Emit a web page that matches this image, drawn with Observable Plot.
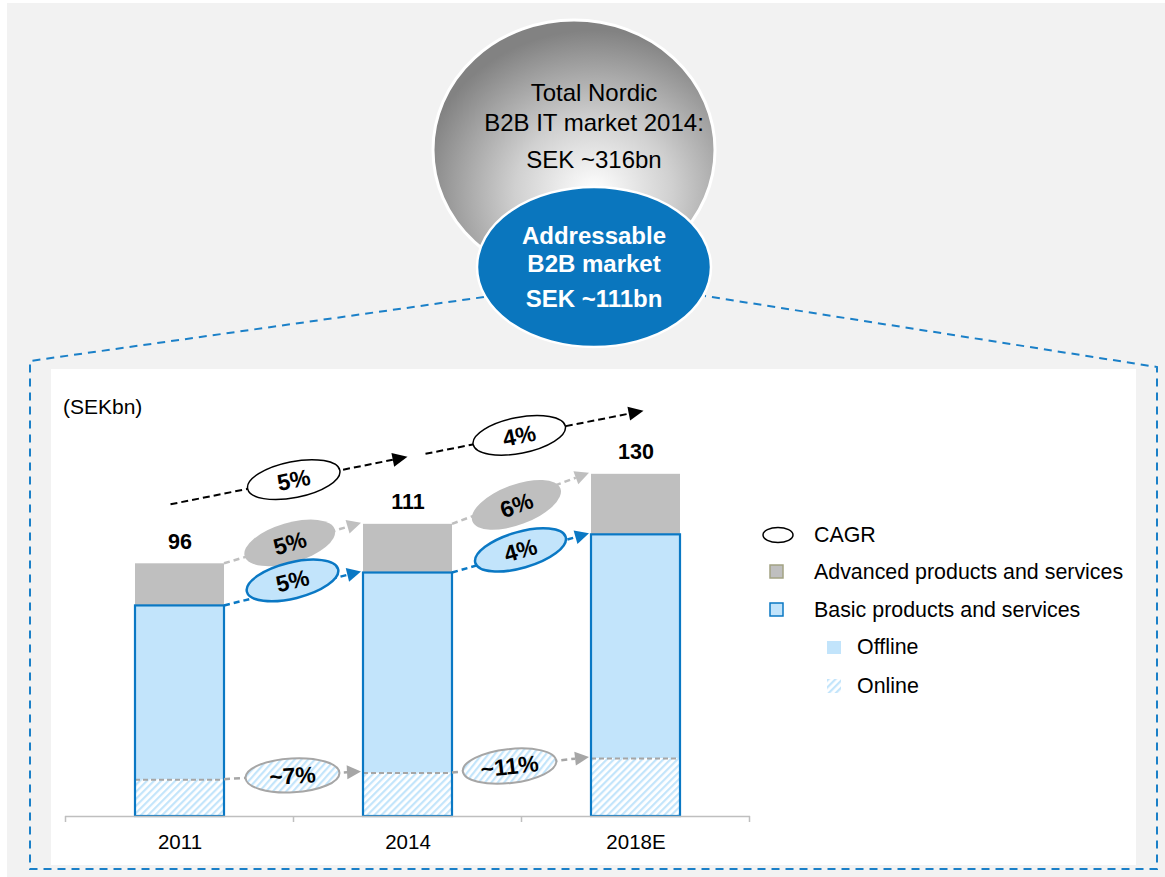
<!DOCTYPE html>
<html>
<head>
<meta charset="utf-8">
<script src="https://cdn.jsdelivr.net/npm/d3@7"></script>
<script src="https://cdn.jsdelivr.net/npm/@observablehq/plot@0.6"></script>
<style>
  html, body { margin: 0; padding: 0; background: #ffffff; }
  #chart { width: 1165px; height: 877px; }
</style>
</head>
<body>
<div id="chart"></div>
<script>
// ---------------- data ----------------
const years = ["2011", "2014", "2018E"];
const totals = [96, 111, 130];
const basic = [80, 92.5, 107];
const online = [14, 16.5, 22];
const totalCagr = ["5%", "4%"];
const advancedCagr = ["5%", "6%"];
const basicCagr = ["5%", "4%"];
const onlineCagr = ["~7%", "~11%"];
const legendLabels = ["CAGR", "Advanced products and services", "Basic products and services", "Offline", "Online"];
const totalMarketLines = ["Total Nordic", "B2B IT market 2014:", "SEK ~316bn"];
const addressableLines = ["Addressable", "B2B market", "SEK ~111bn"];
const unitLabel = "(SEKbn)";

const rows = years.map((year, i) => ({year, total: totals[i], basic: basic[i], online: online[i]}));

// ---------------- styles ----------------
const FONT = "'Liberation Sans', Arial, Helvetica, sans-serif";
const C = {
  gray: "#bfbfbf", grayDark: "#a6a6a6", blue: "#0a78c4", lightBlue: "#c2e4fb",
  panel: "#f2f2f2", dashBlue: "#1b80c8", ellipseBlue: "#0a76be"
};

// ---------------- background / decorations (pixel layout) ----------------
function background(index, scales, values, dims) {
  const g = d3.create("svg:g");
  const defs = g.append("defs");
  const pat = defs.append("pattern").attr("id", "hatch").attr("patternUnits", "userSpaceOnUse")
    .attr("width", 5).attr("height", 5).attr("patternTransform", "rotate(45)");
  pat.append("rect").attr("width", 5).attr("height", 5).attr("fill", "#ffffff");
  pat.append("rect").attr("width", 2.2).attr("height", 5).attr("fill", "#c3e5fb");
  const rg = defs.append("radialGradient").attr("id", "ball").attr("cx", "0.57").attr("cy", "0.66").attr("r", "0.62");
  rg.append("stop").attr("offset", "0").attr("stop-color", "#ffffff");
  rg.append("stop").attr("offset", "0.45").attr("stop-color", "#d0d0d0");
  rg.append("stop").attr("offset", "1").attr("stop-color", "#828282");

  g.append("rect").attr("x", 7).attr("y", 3).attr("width", 1158).attr("height", 874).attr("fill", C.panel);
  g.append("rect").attr("x", 51).attr("y", 369).attr("width", 1085).attr("height", 496).attr("fill", "#ffffff");

  g.append("path")
    .attr("d", "M484,297L30,361L30,869L1157,869L1157,367L705,296")
    .attr("fill", "none").attr("stroke", C.dashBlue).attr("stroke-width", 2).attr("stroke-dasharray", "8,6");

  g.append("ellipse").attr("cx", 574).attr("cy", 150).attr("rx", 141).attr("ry", 130)
    .attr("fill", "url(#ball)").attr("stroke", "#ffffff").attr("stroke-width", 3);
  g.append("ellipse").attr("cx", 594).attr("cy", 267).attr("rx", 117).attr("ry", 80)
    .attr("fill", C.ellipseBlue).attr("stroke", "#ffffff").attr("stroke-width", 2.5);

  const t1 = g.append("g").attr("font-family", FONT).attr("font-size", 24).attr("text-anchor", "middle").attr("fill", "#000");
  [101, 131, 168].forEach((yy, i) => t1.append("text").attr("x", 594).attr("y", yy).text(totalMarketLines[i]));
  const t2 = g.append("g").attr("font-family", FONT).attr("font-size", 24).attr("font-weight", "bold").attr("text-anchor", "middle").attr("fill", "#fff");
  [244, 272, 307].forEach((yy, i) => t2.append("text").attr("x", 594).attr("y", yy).text(addressableLines[i]));

  g.append("text").attr("x", 63).attr("y", 407).attr("dy", "0.35em").attr("text-anchor", "start")
    .attr("font-family", FONT).attr("font-size", 21).attr("fill", "#000").text(unitLabel);

  // legend
  const lg = g.append("g").attr("font-family", FONT).attr("font-size", 21.4).attr("fill", "#000").attr("text-anchor", "start");
  lg.append("ellipse").attr("cx", 778).attr("cy", 535).attr("rx", 15).attr("ry", 7.5).attr("fill", "#fff").attr("stroke", "#000").attr("stroke-width", 1.5);
  lg.append("rect").attr("x", 770).attr("y", 565).attr("width", 13).attr("height", 13).attr("fill", C.gray).attr("stroke", "#a3a383").attr("stroke-width", 1.5);
  lg.append("rect").attr("x", 770).attr("y", 603).attr("width", 13).attr("height", 13).attr("fill", C.lightBlue).attr("stroke", C.blue).attr("stroke-width", 1.5);
  lg.append("rect").attr("x", 827).attr("y", 641).attr("width", 14).attr("height", 13).attr("fill", C.lightBlue);
  lg.append("rect").attr("x", 827).attr("y", 679).attr("width", 14).attr("height", 14).attr("fill", "url(#hatch)");
  const lx = [814, 814, 814, 857, 857], ly = [535, 572, 610, 647, 686];
  legendLabels.forEach((l, i) => lg.append("text").attr("x", lx[i]).attr("y", ly[i]).attr("dy", "0.35em").text(l));
  return g.node();
}

// ---------------- annotations built from data through the scales ----------------
function annotations(index, scales, values, dims) {
  const {x, y} = scales;
  const g = d3.create("svg:g").attr("font-family", FONT);
  const bw = x.bandwidth();
  const step = x(years[1]) - x(years[0]);
  const cx = years.map(d => x(d) + bw / 2);
  const y0 = y(0);
  // category boundary ticks on the axis
  for (let i = 0; i <= years.length; i++) {
    const bx = cx[0] - step / 2 + i * step;
    g.append("line").attr("x1", bx).attr("x2", bx).attr("y1", y0).attr("y2", y0 + 6)
      .attr("stroke", C.gray).attr("stroke-width", 1.5);
  }

  function arrow(p0, p1, color, width, dash, head, hw) {
    const dx = p1[0] - p0[0], dy = p1[1] - p0[1], L = Math.hypot(dx, dy), ux = dx / L, uy = dy / L;
    const bx = p1[0] - ux * head, by = p1[1] - uy * head;
    g.append("line").attr("x1", p0[0]).attr("y1", p0[1]).attr("x2", bx).attr("y2", by)
      .attr("stroke", color).attr("stroke-width", width).attr("stroke-dasharray", dash);
    g.append("path").attr("d", `M${p1[0]},${p1[1]}L${bx - uy * hw},${by + ux * hw}L${bx + uy * hw},${by - ux * hw}Z`)
      .attr("fill", color);
  }
  function badge(p0, p1, t, off, rx, ry, fill, stroke, sw, label) {
    const ang = Math.atan2(p1[1] - p0[1], p1[0] - p0[0]) * 180 / Math.PI;
    const c = [p0[0] + (p1[0] - p0[0]) * t, p0[1] + (p1[1] - p0[1]) * t + off];
    const e = g.append("g").attr("transform", `translate(${c[0]},${c[1]}) rotate(${ang})`);
    e.append("ellipse").attr("rx", rx).attr("ry", ry).attr("fill", fill)
      .attr("stroke", stroke).attr("stroke-width", sw);
    e.append("text").attr("text-anchor", "middle").attr("dy", "0.36em").attr("font-weight", "bold")
      .attr("font-size", 23).attr("fill", "#000").text(label);
  }
  function segmentSeries(vals, labels, color, width, fill, stroke, sw, ry, tArr, offArr) {
    for (let i = 0; i < years.length - 1; i++) {
      const p0 = [x(years[i]) + bw, y(vals[i])];
      const p1 = [x(years[i + 1]) - 2, y(vals[i + 1]) - 1];
      arrow(p0, p1, color, width, "6,4", 14, 7);
      badge(p0, p1, tArr[i], offArr[i], 47, ry, fill, stroke, sw, labels[i]);
    }
  }
  segmentSeries(totals, advancedCagr, C.gray, 2.5, C.gray, "none", 0, 20, [0.48, 0.47], [-1, 5]);
  segmentSeries(basic, basicCagr, C.blue, 2.5, C.lightBlue, C.blue, 2.5, 18, [0.5, 0.5], [-8, -3]);
  segmentSeries(online, onlineCagr, C.grayDark, 2.5, "url(#hatch)", C.grayDark, 2, 17, [0.5, 0.42], [0, 0]);

  // overall CAGR arrows above the bars
  for (let i = 0; i < years.length - 1; i++) {
    const p0 = [cx[i] - 9 + 27 * i, y(totals[i]) - 59 - 11 * i];
    const p1 = [cx[i + 1] + 8 * i, y(totals[i + 1]) - 67 + 4 * i];
    arrow(p0, p1, "#000", 2, "7,4", 15, 7);
    badge(p0, p1, i === 0 ? 0.52 : 0.43, 0, 47, 18, "#fff", "#000", 1.5, totalCagr[i]);
  }
  return g.node();
}

const chart = Plot.plot({
  width: 1165,
  height: 877,
  marginLeft: 65,
  marginRight: 415,
  marginTop: 0,
  marginBottom: 61,
  x: {type: "band", domain: years, paddingInner: 0.61, paddingOuter: 0.305, axis: null},
  y: {domain: [0, 310], axis: null},
  style: {background: "transparent", fontFamily: FONT, overflow: "visible"},
  marks: [
    background,
    Plot.barY(rows, {x: "year", y1: 0, y2: "online", fill: "url(#hatch)"}),
    Plot.barY(rows, {x: "year", y1: "online", y2: "basic", fill: C.lightBlue}),
    Plot.barY(rows, {x: "year", y1: "basic", y2: "total", fill: C.gray}),
    Plot.tickY(rows, {x: "year", y: "online", stroke: C.grayDark, strokeWidth: 2, strokeDasharray: "5,3"}),
    Plot.barY(rows, {x: "year", y1: 0, y2: "basic", fill: "none", stroke: C.blue, strokeWidth: 2.2}),
    Plot.ruleY([0], {stroke: C.gray, strokeWidth: 1.5}),
    Plot.text(rows, {x: "year", y: 0, text: "year", dy: 26, fontSize: 20.5, fill: "#000"}),
    Plot.text(rows, {x: "year", y: "total", text: d => String(d.total), dy: -22, fontSize: 21.5, fontWeight: "bold", fill: "#000"}),
    annotations
  ]
});
document.getElementById("chart").appendChild(chart);
</script>
</body>
</html>
